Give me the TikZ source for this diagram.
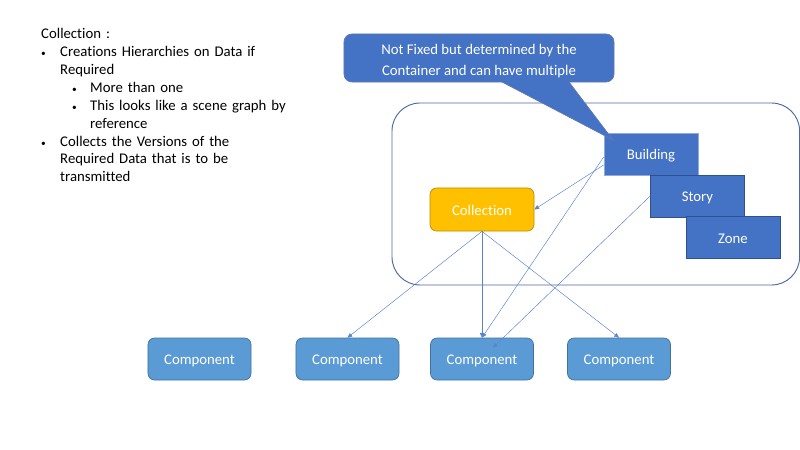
\documentclass[tikz,border=0pt]{standalone}
\usepackage{fontspec}
\setmainfont{Carlito}[RawFeature=-liga]
\usepackage{enumitem}
\usetikzlibrary{arrows.meta, calc}

\definecolor{boxblue}{RGB}{68,114,196}
\definecolor{boxline}{RGB}{47,82,143}
\definecolor{noteline}{RGB}{98,122,178}
\definecolor{bldgline}{RGB}{143,170,220}
\definecolor{gold}{RGB}{255,192,0}
\definecolor{goldline}{RGB}{188,140,0}
\definecolor{compblue}{RGB}{91,155,213}
\definecolor{compline}{RGB}{65,113,156}
\definecolor{frameline}{RGB}{78,104,160}
\definecolor{linkblue}{RGB}{92,132,205}

\setlist[itemize]{nosep, label={\fontsize{8}{8}\selectfont\textbullet}, align=left, labelsep=0pt}

\tikzset{
    base/.style={font=\fontsize{12.6}{15.3}\selectfont, text=white, inner sep=0pt, text height=9.6pt, text depth=0pt},
    level/.style={base, draw=boxline, fill=boxblue, line width=0.6pt, minimum width=2.82cm, minimum height=1.26cm},
    coll/.style={base, draw=goldline, fill=gold, rounded corners=0.2cm, line width=0.6pt, minimum width=3.12cm, minimum height=1.29cm},
    comp/.style={base, draw=compline, fill=compblue, rounded corners=0.2cm, line width=0.6pt, minimum width=3.09cm, minimum height=1.26cm},
    note/.style={font=\fontsize{12.6}{17.9}\selectfont, text=white, inner sep=0pt, draw=noteline, fill=boxblue, rounded corners=0.24cm, line width=0.6pt, minimum width=8.1cm, minimum height=1.44cm, align=center},
    link/.style={draw=linkblue, line width=0.4pt, -{Triangle[length=4pt, width=3.5pt]}},
}

\begin{document}
\begin{tikzpicture}[x=0.03cm, y=-0.03cm]
                \fill[white] (0,0) rectangle (800,450);
                \useasboundingbox (0,0) rectangle (800,450);
                % notes on the left
                \node[anchor=north west, inner sep=0pt, text width=8cm, align=left,
                      font=\fontsize{12.6}{15.3}\selectfont] (notes) at (41,28) {Collection :
                    \begin{itemize}[leftmargin=0.57cm, labelwidth=0.57cm, labelindent=0pt]
                        \item Creations Hierarchies on Data if\newline Required
                        \begin{itemize}[leftmargin=0.9cm, labelwidth=0.54cm, labelindent=0.36cm]
                            \item More than one
                            \item This looks like a scene graph by\newline reference
                        \end{itemize}
                        \item Collects the Versions of the\newline Required Data that is to be\newline transmitted
                    \end{itemize}};
                % container
                \draw[frameline, line width=0.8pt, rounded corners=0.84cm] (392,103) rectangle (799.6,285);
                % levels
                \node[level, draw=bldgline] (bldg) at (651,154) {Building};
                \node[level] (story) at (697.5,196) {Story};
                \node[level] (zone) at (733,237.5) {Zone};
                \node[coll] (coll) at (482,209.5) {Collection};
                % components
                \node[comp] (comp1) at (199.5,359) {Component};
                \node[comp] (comp2) at (347.5,359) {Component};
                \node[comp] (comp3) at (482,359) {Component};
                \node[comp] (comp4) at (619,359) {Component};
                \coordinate (inner) at ($(comp3.north)+(11,10)$);
                % links
                \draw[link] ($(bldg.west)+(0,11)$) -- (coll.east);
                \draw[link] ($(bldg.west)+(0,3)$) -- (comp3.north);
                \draw[link] (story.west) -- (inner);
                \draw[link] (coll.south) -- (comp2.north);
                \draw[link] (coll.south) -- (comp3.north);
                \draw[link] (coll.south) -- (comp4.north);
                % callout
                \node[note] (note) at (479,58) {\rule{0pt}{14.5pt}Not Fixed but determined by the\\Container and can have multiple};
                \coordinate (tip) at (613,140);
                \coordinate (pl) at (502,82);
                \coordinate (pr) at (569,82);
                \fill[boxblue] ($(pl)+(0,-3)$) -- (pl) -- (tip) -- (pr) -- ($(pr)+(0,-3)$) -- cycle;
                \draw[noteline, line width=0.6pt] (pl) -- (tip) -- (pr);
            \end{tikzpicture}
\end{document}
